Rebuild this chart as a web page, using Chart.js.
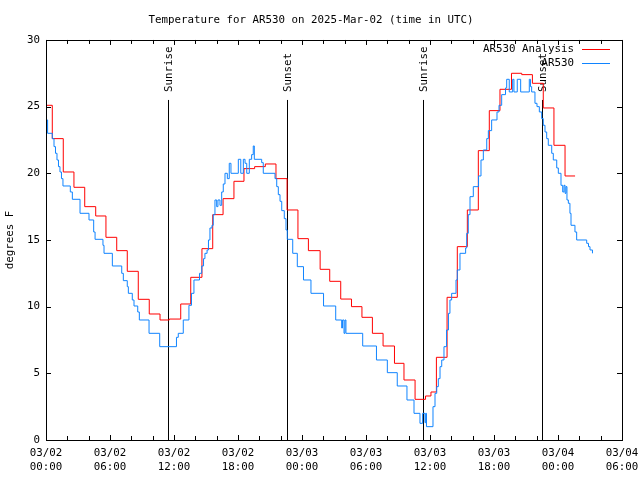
<!DOCTYPE html>
<html>
<head>
<meta charset="utf-8">
<script src="https://cdn.jsdelivr.net/npm/chart.js@4/dist/chart.umd.min.js"></script>
<style>
  html, body { margin: 0; padding: 0; background: #fff; }
  #wrap { width: 640px; height: 480px; }
</style>
</head>
<body>
<div id="wrap"><canvas id="tempChart" width="640" height="480"></canvas></div>
<script>
// hours since 03/02 00:00 UTC, temperature in degrees F
const analysisHours = [0, 0.59, 1.62, 2.62, 3.63, 4.66, 5.62, 6.63, 7.62, 8.65, 9.68, 10.69, 11.56,
    12.63, 13.57, 14.62, 15.63, 16.6, 17.62, 18.56, 19.56, 20.56, 21.56, 22.6, 23.62, 24.6, 25.7,
    26.6, 27.63, 28.64, 29.62, 30.6, 31.6, 32.67, 33.56, 34.6, 35.58, 36.09, 36.6, 37.6, 38.56,
    39.5, 40.53, 41.56, 42.56, 43.64, 44.6, 45.6, 46.62, 47.62, 48.66, 49.6];
const analysisTemps = [25.1, 22.6, 20.1, 18.95, 17.5, 16.8, 15.2, 14.2, 12.65, 10.55, 9.45, 9.0, 9.07,
    10.2, 12.2, 14.35, 16.9, 18.1, 19.4, 20.35, 20.5, 20.7, 19.6, 17.25, 15.1, 14.2, 12.8,
    11.9, 10.57, 10.0, 9.2, 8.0, 7.05, 5.75, 4.5, 3.05, 3.3, 3.6, 6.2, 10.7, 14.5,
    17.25, 21.7, 24.7, 26.3, 27.5, 27.4, 26.75, 24.9, 22.1, 19.8, 19.8];

const obsHours = [0, 0.15, 0.59, 0.75, 0.89, 1.03, 1.17, 1.31, 1.45, 1.59, 2.28, 2.47, 3.19, 4.03,
    4.47, 4.6, 5.34, 5.44, 6.22, 7.1, 7.25, 7.62, 7.72, 8.09, 8.25, 8.6, 8.75, 9.66, 10.66,
    12.23, 12.4, 12.87, 13.4, 13.64, 13.87, 14.39, 14.6, 14.77, 14.9, 15.1, 15.23, 15.37, 15.56,
    15.68, 15.84, 16.0, 16.12, 16.31, 16.47, 16.62, 16.78, 17.0, 17.18, 17.34, 18.03, 18.26,
    18.5, 18.66, 18.82, 19.06, 19.28, 19.43, 19.53, 20.22, 20.37, 21.47, 21.63, 21.78, 21.94,
    22.1, 22.34, 22.5, 22.62, 23.13, 23.56, 24.14, 24.84, 26.02, 27.16, 27.72, 27.8, 27.94,
    28.03, 28.12, 29.69, 30.98, 32.0, 32.93, 33.84, 34.5, 35.06, 35.31, 35.53, 35.6, 35.67,
    36.28, 36.47, 36.63, 36.78, 36.94, 37.1, 37.31, 37.55, 37.73, 37.87, 38.03, 38.44, 38.56,
    38.81, 39.34, 39.44, 39.59, 39.75, 40.06, 40.55, 40.78, 41.0, 41.32, 41.47, 41.78, 42.28,
    42.47, 42.72, 43.08, 43.19, 43.43, 43.75, 43.87, 44.18, 44.5, 45.31, 45.42, 45.53, 45.84,
    46.03, 46.25, 46.47, 46.62, 46.78, 46.94, 47.09, 47.41, 47.56, 47.88, 48.03, 48.28, 48.44,
    48.56, 48.66, 48.75, 48.84, 48.97, 49.12, 49.22, 49.59, 49.75, 50.69, 50.86, 51.0, 51.23];
const obsTemps = [24.0, 23.0, 22.6, 22.0, 21.5, 21.0, 20.5, 20.1, 19.6, 19.05, 18.6, 18.05, 17.0, 16.5,
    15.6, 15.05, 14.6, 14.0, 13.05, 12.5, 11.95, 11.5, 11.0, 10.5, 10.05, 9.6, 9.0, 8.0, 7.0,
    7.7, 8.0, 9.0, 10.1, 11.0, 12.0, 12.5, 13.05, 13.6, 14.0, 14.25, 15.0, 15.9, 16.1,
    16.9, 18.0, 17.5, 18.0, 17.6, 18.6, 19.2, 20.0, 19.6, 20.75, 20.0, 21.05, 20.0,
    21.05, 20.75, 20.0, 21.05, 21.4, 22.05, 21.05, 20.8, 20.0, 19.6, 19.0, 18.4, 17.9,
    17.2, 16.6, 15.75, 15.05, 14.0, 13.0, 12.0, 11.0, 10.05, 9.0, 8.4, 9.0, 8.0,
    9.0, 8.0, 7.05, 6.0, 5.05, 4.05, 3.0, 2.0, 1.25, 2.0, 1.3, 2.0, 1.0,
    2.5, 3.5, 4.0, 4.6, 5.5, 6.0, 7.0, 8.25, 9.5, 10.5, 11.0, 12.0, 12.75,
    14.0, 14.4, 15.5, 16.9, 18.25, 19.0, 19.8, 21.0, 21.75, 22.6, 23.2, 24.0, 24.6,
    25.1, 25.9, 26.4, 27.05, 26.1, 27.05, 26.1, 27.05, 26.1, 27.05, 26.5, 26.1, 25.25,
    25.0, 24.6, 24.1, 23.6, 23.1, 22.6, 22.1, 21.5, 21.0, 20.4, 20.0, 19.1, 18.6,
    19.1, 18.5, 19.0, 18.0, 17.75, 17.0, 16.1, 15.6, 15.0, 14.75, 14.5, 14.25, 14.0];

const eventHours = [11.47, 22.56, 35.37, 46.53];
const eventLabels = ['Sunrise', 'Sunset', 'Sunrise', 'Sunset'];

const xTickLabels = [
    ['03/02', '00:00'], ['03/02', '06:00'], ['03/02', '12:00'], ['03/02', '18:00'],
    ['03/03', '00:00'], ['03/03', '06:00'], ['03/03', '12:00'], ['03/03', '18:00'],
    ['03/04', '00:00'], ['03/04', '06:00']
];

const FONT_FAMILY = "'DejaVu Sans Mono', monospace";
const FONT_SIZE = 10.8;
const FONT = FONT_SIZE + 'px ' + FONT_FAMILY;

// sunrise / sunset markers, drawn under the data
const eventLines = {
    id: 'eventLines',
    beforeDatasetsDraw(chart) {
        const { ctx, chartArea: a, scales: { x } } = chart;
        const lineTop = a.top + 0.15 * (a.bottom - a.top);
        ctx.save();
        ctx.strokeStyle = '#000';
        ctx.lineWidth = 1;
        ctx.fillStyle = '#000';
        ctx.font = FONT;
        eventHours.forEach((h, i) => {
            const px = Math.round(x.getPixelForValue(h)) + 0.5;
            ctx.beginPath();
            ctx.moveTo(px, a.bottom);
            ctx.lineTo(px, lineTop);
            ctx.stroke();
            ctx.save();
            ctx.translate(px + 1, lineTop - 8);
            ctx.rotate(-Math.PI / 2);
            ctx.textAlign = 'left';
            ctx.textBaseline = 'middle';
            ctx.fillText(eventLabels[i], 0, 0);
            ctx.restore();
        });
        ctx.restore();
    }
};

// border, inward tics on all four sides, and the legend in the top right corner
const frameAndKey = {
    id: 'frameAndKey',
    afterDatasetsDraw(chart) {
        const { ctx, chartArea: a, scales: { x, y } } = chart;
        ctx.save();
        ctx.strokeStyle = '#000';
        ctx.lineWidth = 1;
        ctx.beginPath();
        for (let h = x.min; h <= x.max; h += 2) {
            const px = Math.round(x.getPixelForValue(h)) + 0.5;
            const len = h % 6 === 0 ? 5 : 4;
            ctx.moveTo(px, a.bottom); ctx.lineTo(px, a.bottom - len);
            ctx.moveTo(px, a.top); ctx.lineTo(px, a.top + len);
        }
        y.ticks.forEach(t => {
            const py = Math.round(y.getPixelForValue(t.value)) + 0.5;
            ctx.moveTo(a.left, py); ctx.lineTo(a.left + 5, py);
            ctx.moveTo(a.right, py); ctx.lineTo(a.right - 5, py);
        });
        ctx.stroke();
        ctx.strokeRect(Math.round(a.left) + 0.5, Math.round(a.top) + 0.5,
            Math.round(a.right - a.left), Math.round(a.bottom - a.top));

        ctx.font = FONT;
        ctx.textAlign = 'right';
        ctx.textBaseline = 'middle';
        chart.data.datasets.forEach((ds, i) => {
            const yy = Math.round(a.top + 9.5 + i * 13.5) + 0.5;
            ctx.fillStyle = '#000';
            ctx.fillText(ds.label, a.right - 48, yy);
            ctx.strokeStyle = ds.borderColor;
            ctx.beginPath();
            ctx.moveTo(a.right - 40, yy);
            ctx.lineTo(a.right - 12, yy);
            ctx.stroke();
        });
        ctx.restore();
    }
};

new Chart(document.getElementById('tempChart'), {
    type: 'line',
    data: {
        datasets: [{
            label: 'AR530 Analysis',
            data: analysisHours.map((h, i) => ({ x: h, y: analysisTemps[i] })),
            borderColor: '#ff0000',
            borderWidth: 1,
            stepped: true,
            pointRadius: 0,
            fill: false,
            order: 1
        }, {
            label: 'AR530',
            data: obsHours.map((h, i) => ({ x: h, y: obsTemps[i] })),
            borderColor: '#1084ff',
            borderWidth: 1,
            stepped: true,
            pointRadius: 0,
            fill: false,
            order: 0
        }]
    },
    options: {
        responsive: false,
        animation: false,
        events: [],
        layout: { padding: { left: 0, right: 18, top: 0, bottom: 0 } },
        plugins: {
            legend: { display: false },
            tooltip: { enabled: false },
            title: {
                display: true,
                text: 'Temperature for AR530 on 2025-Mar-02 (time in UTC)',
                color: '#000',
                font: { family: FONT_FAMILY, size: FONT_SIZE, weight: 'normal', lineHeight: 1.2 },
                padding: { top: 14, bottom: 13 }
            }
        },
        scales: {
            x: {
                type: 'linear',
                min: 0,
                max: 54,
                grid: { display: false, drawTicks: false },
                border: { display: false },
                afterFit: s => { s.height = 40; s.paddingLeft = 0; s.paddingRight = 0; },
                ticks: {
                    stepSize: 6,
                    autoSkip: false,
                    maxRotation: 0,
                    padding: 6,
                    color: '#000',
                    font: { family: FONT_FAMILY, size: FONT_SIZE, lineHeight: 1.3 },
                    callback: (v) => xTickLabels[Math.round(v / 6)]
                }
            },
            y: {
                min: 0,
                max: 30,
                grid: { display: false, drawTicks: false },
                border: { display: false },
                afterFit: s => { s.width = 46; },
                title: {
                    display: true,
                    text: 'degrees F',
                    color: '#000',
                    font: { family: FONT_FAMILY, size: FONT_SIZE, lineHeight: 1.2 },
                    padding: { top: 4, bottom: 0 }
                },
                ticks: {
                    stepSize: 5,
                    padding: 6,
                    color: '#000',
                    font: { family: FONT_FAMILY, size: FONT_SIZE }
                }
            }
        }
    },
    plugins: [eventLines, frameAndKey]
});
</script>
</body>
</html>
